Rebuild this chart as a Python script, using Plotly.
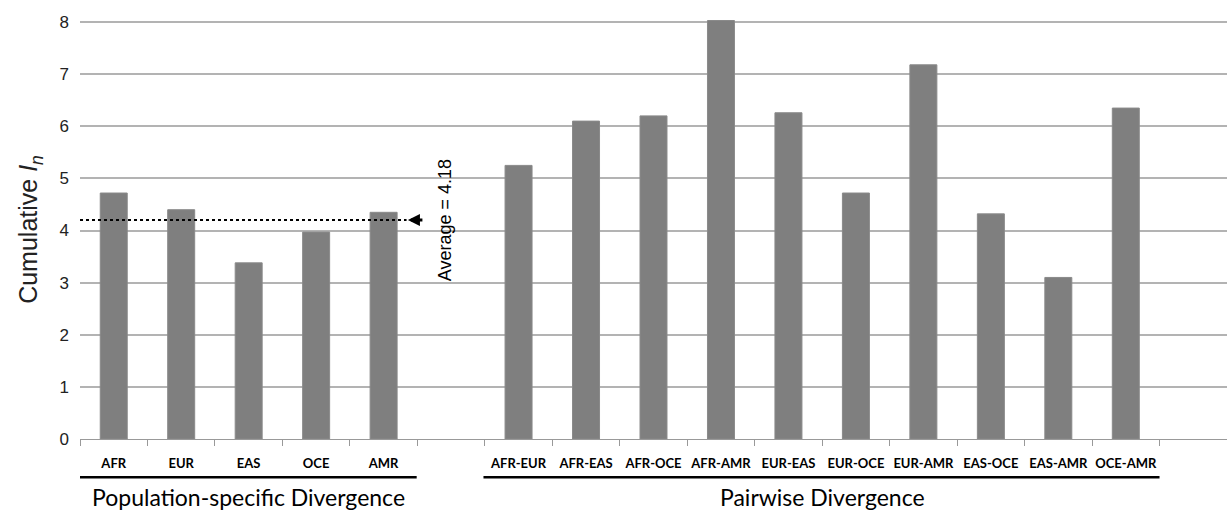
import plotly.graph_objects as go

pop_labels = ["AFR", "EUR", "EAS", "OCE", "AMR"]
pop_values = [4.72, 4.40, 3.38, 3.97, 4.35]
pair_labels = ["AFR-EUR", "AFR-EAS", "AFR-OCE", "AFR-AMR", "EUR-EAS",
               "EUR-OCE", "EUR-AMR", "EAS-OCE", "EAS-AMR", "OCE-AMR"]
pair_values = [5.25, 6.10, 6.20, 8.03, 6.26, 4.72, 7.18, 4.32, 3.10, 6.35]
average_value = 4.18
y_ticks = [0, 1, 2, 3, 4, 5, 6, 7, 8]
group_titles = ["Population-specific Divergence", "Pairwise Divergence"]

gap1 = " "
gap2 = "  "
categories = pop_labels + [gap1] + pair_labels + [gap2]

fig = go.Figure()
fig.add_trace(go.Bar(
    x=pop_labels + pair_labels,
    y=pop_values + pair_values,
    marker=dict(color="#7f7f7f", line=dict(color="#8a8a8a", width=1)),
    width=0.4,
    cliponaxis=False,
    showlegend=False,
))

fig.update_layout(
    width=1227, height=513,
    margin=dict(l=80, r=0, t=20, b=74),
    plot_bgcolor="white", paper_bgcolor="white",
    font=dict(family="Liberation Sans, Arial", color="#222"),
    xaxis=dict(
        type="category", categoryorder="array", categoryarray=categories,
        range=[-0.5, 16.5], tickson="boundaries", ticks="outside",
        ticklen=6, tickcolor="#999", showline=True, linecolor="#999",
        linewidth=1, showgrid=False, tickangle=0,
        tickfont=dict(family="Lato", size=13, color="black", weight="bold"),
        ticklabelstandoff=12,
    ),
    yaxis=dict(
        range=[0, 8.04], tickvals=y_ticks, showgrid=True, gridcolor="#b3b3b3",
        gridwidth=1.5, zeroline=False, showline=False,
        tickfont=dict(size=17, color="#222"),
        ticks="", ticklabelstandoff=10,
        title=dict(text="Cumulative <i>I<sub>n</sub></i>", font=dict(size=25, color="#222"), standoff=14),
    ),
    bargap=0.6,
)

# Average line
fig.add_shape(type="line", xref="x", yref="y", x0=-0.5, x1=4.34,
              y0=average_value + 0.02, y1=average_value + 0.02,
              line=dict(color="black", width=2, dash="dot"))
fig.add_annotation(x=4.36, y=average_value + 0.02, xref="x", yref="y",
                   ax=16, ay=0, showarrow=True, arrowhead=2, arrowsize=0.8,
                   arrowwidth=3, arrowcolor="black", text="")
fig.add_annotation(x=4.91, y=average_value + 0.02, xref="x", yref="y",
                   text="Average = 4.18", textangle=-90, showarrow=False,
                   font=dict(size=18, color="black"))

# Group underline bars and titles
fig.add_shape(type="line", xref="x", yref="paper", x0=-0.57, x1=4.49,
              y0=-0.091, y1=-0.091, line=dict(color="black", width=2.5))
fig.add_shape(type="line", xref="x", yref="paper", x0=5.48, x1=15.5,
              y0=-0.091, y1=-0.091, line=dict(color="black", width=2.5))
fig.add_annotation(x=2.0, y=-0.139, xref="x", yref="paper", text=group_titles[0],
                   showarrow=False, yanchor="middle",
                   font=dict(family="Lato", size=23, color="black"))
fig.add_annotation(x=10.5, y=-0.139, xref="x", yref="paper", text=group_titles[1],
                   showarrow=False, yanchor="middle",
                   font=dict(family="Lato", size=23, color="black"))

fig.write_html("out.html", config={"displayModeBar": False},
               post_script="document.body.style.margin='0';document.body.style.overflow='hidden';")
